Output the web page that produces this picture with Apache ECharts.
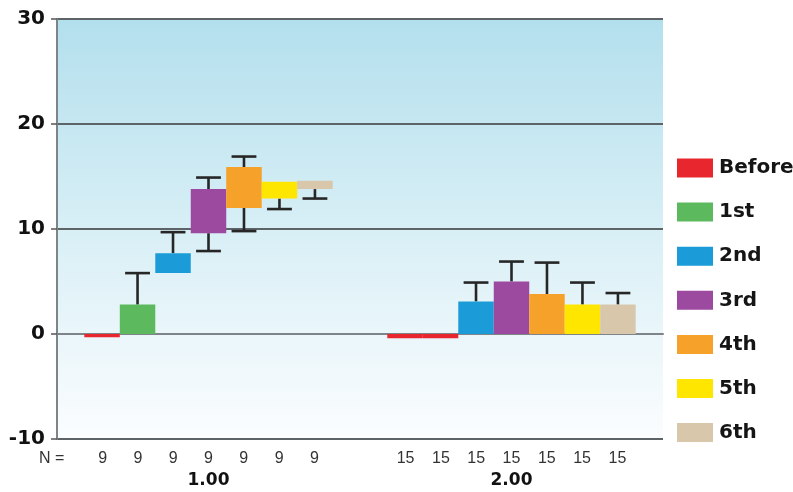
<!DOCTYPE html>
<html><head><meta charset="utf-8">
<script src="https://cdn.jsdelivr.net/npm/echarts@6/dist/echarts.min.js"></script>
<style>html,body{margin:0;padding:0;background:#fff}#c{width:793px;height:492px}</style>
</head><body><div id="c"></div>
<script>
// ---- data ----
const groups = ['1.00', '2.00'];
const nCounts = [9, 15];
const seriesNames = ['Before', '1st', '2nd', '3rd', '4th', '5th', '6th'];
// each entry per group: [min, q1, q3, max]
const before = [[-0.3, -0.3, 0, 0], [-0.4, -0.4, 0, 0]];
const first  = [[0, 0, 2.8, 5.8], [-0.4, -0.4, 0, 0]];
const second = [[5.8, 5.8, 7.7, 9.7], [0, 0, 3.1, 4.9]];
const third  = [[7.9, 9.6, 13.8, 14.9], [0, 0, 5.0, 6.9]];
const fourth = [[9.8, 12.0, 15.9, 16.9], [0, 0, 3.8, 6.8]];
const fifth  = [[11.9, 12.9, 14.5, 14.5], [0, 0, 2.8, 4.9]];
const sixth  = [[12.9, 13.8, 14.6, 14.6], [0, 0, 2.8, 3.9]];
const yTicks = [-10, 0, 10, 20, 30];

const allSeries = [before, first, second, third, fourth, fifth, sixth];
const colors = ['#e8262d', '#5db95d', '#1b9bd7', '#9b4aa0', '#f6a12a', '#ffe600', '#d8c7ab'];

const chart = echarts.init(document.getElementById('c'));
const SLOTS = 8.54;

function renderItem(params, api) {
  const cat = api.value(0);
  const mn = api.value(1), q1 = api.value(2), q3 = api.value(3), mx = api.value(4);
  const band = api.size([1, 0])[0];
  const slot = band / SLOTS;
  const cx = api.coord([cat, 0])[0] + (params.seriesIndex - 3) * slot;
  const yq1 = api.coord([cat, q1])[1], yq3 = api.coord([cat, q3])[1];
  const ymn = api.coord([cat, mn])[1], ymx = api.coord([cat, mx])[1];
  const fill = api.visual('color');
  const children = [];
  const cap = slot * 0.7;
  const wStyle = {stroke: '#262626', lineWidth: 2.6};
  if (mx > q3) {
    children.push({type: 'line', shape: {x1: cx, y1: yq3, x2: cx, y2: ymx}, style: wStyle});
    children.push({type: 'line', shape: {x1: cx - cap / 2, y1: ymx, x2: cx + cap / 2, y2: ymx}, style: wStyle});
  }
  if (mn < q1) {
    children.push({type: 'line', shape: {x1: cx, y1: yq1, x2: cx, y2: ymn}, style: wStyle});
    children.push({type: 'line', shape: {x1: cx - cap / 2, y1: ymn, x2: cx + cap / 2, y2: ymn}, style: wStyle});
  }
  children.push({type: 'rect', shape: {x: cx - slot / 2, y: Math.min(yq1, yq3), width: slot, height: Math.max(Math.abs(yq1 - yq3), 1)}, style: {fill: fill}});
  return {type: 'group', children: children};
}

const series = seriesNames.map((name, si) => ({
  name: name,
  type: 'custom',
  renderItem: renderItem,
  itemStyle: {color: colors[si]},
  encode: {x: 0, y: [1, 2, 3, 4]},
  data: allSeries[si].map((v, gi) => {
    const item = {value: [gi].concat(v)};
    // in the reference the flat "1st" box of the second group is drawn in the Before colour
    if (si === 1 && gi === 1) item.itemStyle = {color: colors[0]};
    return item;
  }),
  z: 5
}));

const nRich = {n: {width: 35.3, align: 'center', fontSize: 16, color: '#333', fontFamily: 'Liberation Sans', lineHeight: 22},
               g: {fontSize: 17, fontWeight: 'bold', color: '#111', fontFamily: 'DejaVu Sans', lineHeight: 22}};

chart.setOption({
  animation: false,
  backgroundColor: '#fff',
  grid: {left: 57, right: 130, top: 19, bottom: 53, show: true, borderWidth: 0,
    backgroundColor: {type: 'linear', x: 0, y: 0, x2: 0, y2: 1,
      colorStops: [{offset: 0, color: '#b3dfed'}, {offset: 0.5, color: '#d8eff6'}, {offset: 1, color: '#fbfdfe'}]}},
  legend: {
    orient: 'vertical', left: 672, top: 153, itemWidth: 36, itemHeight: 19, itemGap: 24.1,
    icon: 'rect', data: seriesNames,
    textStyle: {fontSize: 20, fontWeight: 'bold', color: '#151515', fontFamily: 'DejaVu Sans', padding: [0, 0, 0, 1]}
  },
  xAxis: {
    type: 'category', data: groups, boundaryGap: true,
    axisLine: {lineStyle: {color: '#7d8588', width: 2}},
    axisTick: {alignWithLabel: true, length: 6, lineStyle: {color: '#555', width: 1.5}},
    axisLabel: {margin: 9, rich: nRich,
      formatter: (v, i) => Array(7).fill('{n|' + nCounts[i] + '}').join('') + '\n{g|' + v + '}'}
  },
  yAxis: {
    type: 'value', min: yTicks[0], max: yTicks[yTicks.length - 1], interval: 10,
    axisLine: {show: true, lineStyle: {color: '#7d8588', width: 2}},
    axisTick: {show: true, length: 6, lineStyle: {color: '#555', width: 1.5}},
    axisLabel: {fontSize: 20, fontWeight: 'bold', color: '#111', fontFamily: 'DejaVu Sans', margin: 12},
    splitLine: {lineStyle: {color: '#5c6468', width: 2}}
  },
  graphic: [{type: 'text', left: 39, top: 451, style: {text: 'N =', font: '16px "Liberation Sans"', fill: '#333'}}],
  series: series
});
</script></body></html>
